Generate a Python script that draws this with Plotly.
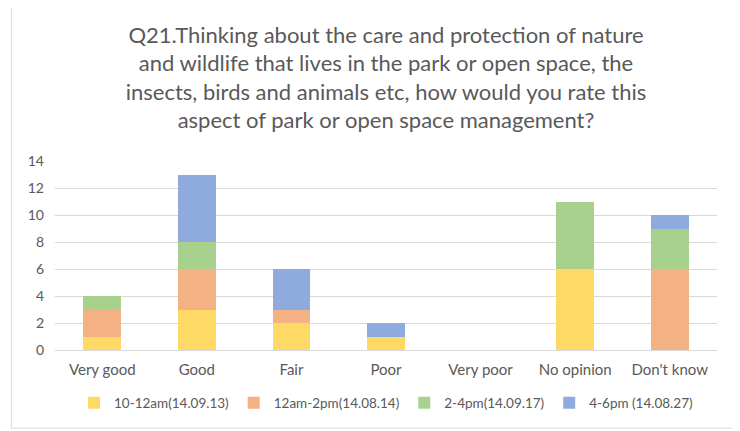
import plotly.graph_objects as go

# Data
categories = ['Very good', 'Good', 'Fair', 'Poor', 'Very poor', 'No opinion', "Don't know"]
series_names = ['10-12am(14.09.13)', '12am-2pm(14.08.14)', '2-4pm(14.09.17)', '4-6pm (14.08.27)']
am_10_12 = [1, 3, 2, 1, 0, 6, 0]
am_12_2pm = [2, 3, 1, 0, 0, 0, 6]
pm_2_4 = [1, 2, 0, 0, 0, 5, 3]
pm_4_6 = [0, 5, 3, 1, 0, 0, 1]
colors = ['#FFD966', '#F4B183', '#A9D18E', '#8FAADC']

fig = go.Figure()
for name, vals, col in zip(series_names, [am_10_12, am_12_2pm, pm_2_4, pm_4_6], colors):
    fig.add_trace(go.Bar(x=categories, y=vals, name=name,
                         marker=dict(color=col, line=dict(width=0))))

title = ('Q21.Thinking about the care and protection of nature<br>'
         'and wildlife that lives in the park or open space, the<br>'
         'insects, birds and animals etc, how would you rate this<br>'
         'aspect of park or open space management?')

# page body has an 8px margin, so the figure is sized to fit the window
fig.update_layout(
    barmode='stack',
    bargap=0.6,
    width=732, height=423,
    paper_bgcolor='white', plot_bgcolor='white',
    font=dict(family='Lato, Open Sans, sans-serif', color='#595959', size=15),
    title=dict(text=title, x=0.5, xanchor='center', xref='paper',
               yref='container', y=0.918, yanchor='top',
               font=dict(size=22, color='#595959')),
    margin=dict(l=47, r=23, t=153, b=81, autoexpand=False),
    xaxis=dict(showline=True, linecolor='#D9D9D9', linewidth=1, ticks='',
               tickfont=dict(size=15), ticklabelstandoff=6),
    yaxis=dict(range=[0, 14], dtick=2, gridcolor='#D9D9D9', zeroline=False,
               showline=False, tickfont=dict(size=14), ticklabelstandoff=10),
    legend=dict(orientation='h', x=0.5, xanchor='center', xref='paper',
                yref='container', y=0.066, yanchor='middle',
                font=dict(size=13.5), traceorder='normal', itemwidth=30),
    shapes=[dict(type='rect', xref='paper', yref='paper',
                 x0=-0.066, x1=1.027, y0=-0.413, y1=1.84,
                 line=dict(color='#D9D9D9', width=1))],
)

fig.write_html("out.html")
